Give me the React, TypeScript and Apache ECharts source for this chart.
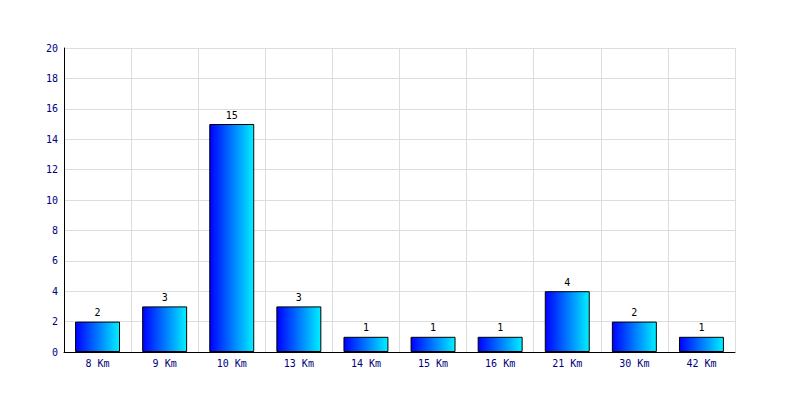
import React, { useEffect, useRef } from "react";
import * as echarts from "echarts";

const categories = ["8 Km", "9 Km", "10 Km", "13 Km", "14 Km", "15 Km", "16 Km", "21 Km", "30 Km", "42 Km"];
const values = [2, 3, 15, 3, 1, 1, 1, 4, 2, 1];

export default function App() {
  const ref = useRef<HTMLDivElement>(null);
  useEffect(() => {
    const chart = echarts.init(ref.current!, null, { renderer: "svg" });
    const font = "'DejaVu Sans Mono', monospace";
    chart.setOption({
      animation: false,
      backgroundColor: "#ffffff",
      grid: { left: 64, right: 65, top: 48, bottom: 48, containLabel: false },
      xAxis: {
        type: "category",
        data: categories,
        boundaryGap: true,
        axisLine: { lineStyle: { color: "#000000", width: 1 } },
        axisTick: { show: false },
        axisLabel: { color: "#000080", fontFamily: font, fontSize: 10, margin: 6 },
        splitLine: { show: true, lineStyle: { color: "#dddddd" } },
      },
      yAxis: {
        type: "value",
        min: 0,
        max: 20,
        interval: 2,
        axisLine: { show: true, lineStyle: { color: "#000000", width: 1 } },
        axisTick: { show: false },
        axisLabel: { color: "#000080", fontFamily: font, fontSize: 10, margin: 6 },
        splitLine: { show: true, lineStyle: { color: "#dddddd" } },
      },
      series: [
        {
          type: "bar",
          data: values,
          barWidth: "67%",
          itemStyle: {
            borderColor: "#000000",
            borderWidth: 1,
            color: new echarts.graphic.LinearGradient(0, 0, 1, 0, [
              { offset: 0, color: "#0000ff" },
              { offset: 1, color: "#00f0ff" },
            ]),
          },
          label: {
            show: true,
            position: "top",
            distance: 4,
            color: "#000000",
            fontFamily: font,
            fontSize: 10,
          },
        },
      ],
    });
    return () => chart.dispose();
  }, []);
  return <div ref={ref} style={{ width: 800, height: 400, position: "absolute", left: 0, top: 0 }} />;
}
